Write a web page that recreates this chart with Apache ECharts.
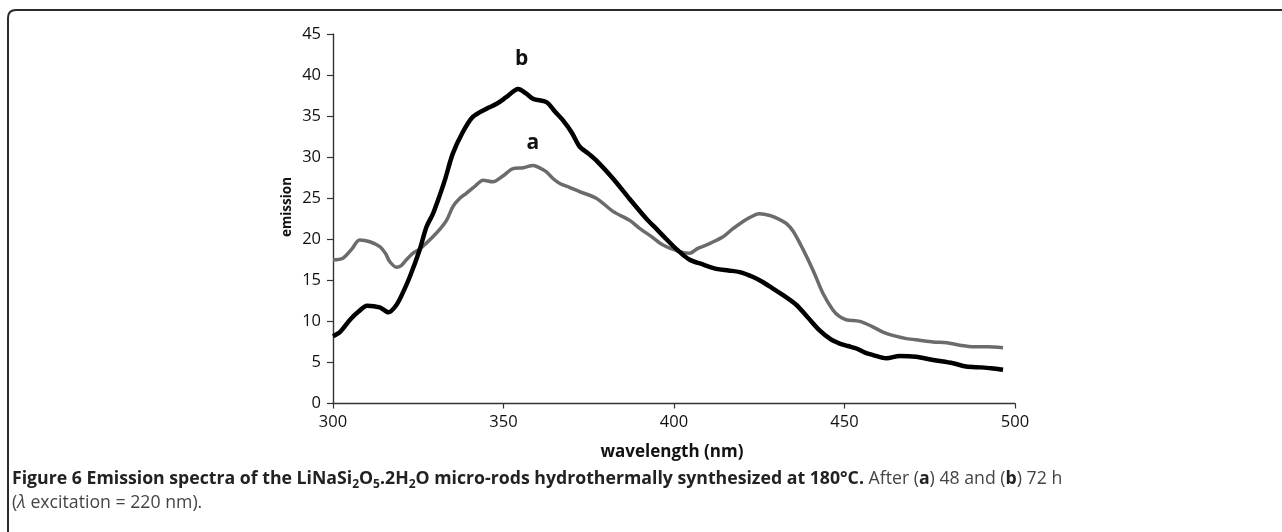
<!DOCTYPE html>
<html>
<head>
<meta charset="utf-8">
<script src="https://cdn.jsdelivr.net/npm/echarts@6/dist/echarts.min.js"></script>
<style>
html,body{margin:0;padding:0;background:#fff;}
#chart{width:1282px;height:532px;}
</style>
</head>
<body>
<div id="chart"></div>
<script>
// ---- data ----
const waveA = [300, 302.9, 305.5, 307.8, 310.8, 313.7, 315.5, 316.6, 318.6, 320, 321.5, 323.5, 325.4, 327.3, 329.3, 331.3, 333.3, 335.2, 337.2, 339.1, 341.5, 344, 346.9, 349.8, 352.8, 355.8, 358.7, 360.6, 362.6, 364.5, 366.5, 369.5, 372.3, 377.2, 382.1, 387, 390, 393.5, 396.8, 401.7, 404.6, 407, 409.5, 414.4, 417, 419.3, 422, 425, 428.1, 431, 433, 434.9, 437.8, 440.8, 443.7, 446.6, 448.5, 450.5, 454.5, 458, 461.3, 465, 468.2, 472, 476, 480, 483.8, 488, 492, 496.5];
const valA  = [17.5, 17.7, 18.8, 19.9, 19.7, 19.1, 18.2, 17.3, 16.6, 16.8, 17.5, 18.3, 18.8, 19.5, 20.3, 21.2, 22.3, 24.0, 25.0, 25.6, 26.4, 27.2, 27.0, 27.7, 28.6, 28.7, 29.0, 28.7, 28.2, 27.4, 26.8, 26.3, 25.8, 25.0, 23.4, 22.3, 21.3, 20.3, 19.3, 18.5, 18.3, 18.9, 19.3, 20.3, 21.2, 21.9, 22.6, 23.1, 22.9, 22.4, 21.9, 21.0, 18.8, 16.2, 13.4, 11.4, 10.6, 10.2, 10.0, 9.4, 8.7, 8.2, 7.9, 7.7, 7.5, 7.4, 7.1, 6.9, 6.9, 6.8];
const waveB = [300, 302, 305, 307.5, 310, 313.7, 316.3, 318.6, 320.5, 322.5, 325.4, 327.4, 329.3, 331, 332.8, 335.1, 338, 341, 345, 348, 350.8, 354.3, 356.5, 358.7, 362.6, 365, 367.4, 370, 372.3, 375, 377.2, 382.1, 387, 391.9, 395, 397.8, 401, 404.6, 408, 412.4, 416, 419.3, 423.2, 426, 429, 432, 435.9, 439, 442.7, 446, 448.6, 451, 453.5, 456, 458.4, 462.3, 466.2, 471, 476, 481.8, 485.7, 490, 493, 496.5];
const valB  = [8.2, 8.7, 10.2, 11.2, 11.9, 11.7, 11.1, 12.0, 13.5, 15.4, 18.7, 21.5, 23.1, 25.0, 27.2, 30.4, 33.0, 34.9, 35.9, 36.5, 37.3, 38.3, 37.8, 37.1, 36.7, 35.6, 34.5, 33.0, 31.3, 30.4, 29.6, 27.4, 24.9, 22.5, 21.2, 20.0, 18.7, 17.5, 17.0, 16.4, 16.2, 16.0, 15.4, 14.8, 14.0, 13.2, 12.0, 10.6, 8.9, 7.8, 7.3, 7.0, 6.7, 6.2, 5.9, 5.5, 5.8, 5.7, 5.3, 4.9, 4.5, 4.4, 4.3, 4.1];
const xTicks = [300, 350, 400, 450, 500];
const yTicks = [0, 5, 10, 15, 20, 25, 30, 35, 40, 45];
const labelA = ['a', 358.6, 31.7];
const labelB = ['b', 355.3, 42.0];

const pairs = (xs, ys) => xs.map((x, i) => [x, ys[i]]);

const chart = echarts.init(document.getElementById('chart'), null, {renderer: 'canvas'});
const FONT = 'Open Sans';
const CAP = 17.7;
const markLabel = (l) => ({
  coord: [l[1], l[2]], value: l[0], symbol: 'circle', symbolSize: 0,
  label: {show: true, position: 'inside', formatter: l[0], color: '#111', fontSize: 21, fontWeight: 'bold', fontFamily: FONT}
});

chart.setOption({
  animation: false,
  backgroundColor: '#fff',
  grid: {left: 333, right: 267, top: 34, bottom: 128.5, containLabel: false},
  xAxis: {
    type: 'value', min: xTicks[0], max: xTicks[xTicks.length - 1], interval: 50,
    axisLine: {show: true, lineStyle: {color: '#333', width: 1.4}},
    axisTick: {show: true, length: 5, lineStyle: {color: '#333', width: 1.2}},
    splitLine: {show: false},
    axisLabel: {margin: 10, color: '#111', fontSize: 16.5, fontFamily: FONT}
  },
  yAxis: {
    type: 'value', min: yTicks[0], max: yTicks[yTicks.length - 1], interval: 5,
    axisLine: {show: true, lineStyle: {color: '#333', width: 1.4}},
    axisTick: {show: true, length: 6, lineStyle: {color: '#333', width: 1.2}},
    splitLine: {show: false},
    axisLabel: {margin: 12, color: '#111', fontSize: 16.5, fontFamily: FONT}
  },
  series: [
    {
      name: 'a', type: 'line', data: pairs(waveA, valA), showSymbol: false, smooth: 0.3,
      lineStyle: {color: '#6b6b6b', width: 3.5}, z: 2,
      markPoint: {data: [markLabel(labelA)], silent: true}
    },
    {
      name: 'b', type: 'line', data: pairs(waveB, valB), showSymbol: false, smooth: 0.3,
      lineStyle: {color: '#000', width: 4.5}, z: 3,
      markPoint: {data: [markLabel(labelB)], silent: true}
    }
  ],
  graphic: [
    {
      type: 'polyline', silent: true,
      shape: {points: [[8, 532], [8, 18]]},
      style: {fill: null, stroke: '#2a2a2a', lineWidth: 2}
    },
    {
      type: 'bezierCurve', silent: true,
      shape: {x1: 8, y1: 18, cpx1: 8, cpy1: 10, x2: 16, y2: 10},
      style: {fill: null, stroke: '#2a2a2a', lineWidth: 2}
    },
    {
      type: 'polyline', silent: true,
      shape: {points: [[16, 10], [1282, 10]]},
      style: {fill: null, stroke: '#2a2a2a', lineWidth: 2}
    },
    {
      type: 'text', x: 287, y: 207, rotation: Math.PI / 2, silent: true,
      style: {text: 'emission', fontFamily: FONT, fontWeight: 'bold', fontSize: 13.5, fill: '#111', align: 'center', verticalAlign: 'middle'}
    },
    {
      type: 'text', x: 672, y: 452, silent: true,
      style: {text: 'wavelength (nm)', fontFamily: FONT, fontWeight: 'bold', fontSize: 17, fill: '#111', align: 'center', verticalAlign: 'middle'}
    },
    {
      type: 'text', x: 12, y: 467, silent: true,
      style: {
        text: '{b|Figure 6 Emission spectra of the LiNaSi}{bs|2}{b|O}{bs|5}{b|.2H}{bs|2}{b|O micro-rods hydrothermally synthesized at 180°C.}{r| After (}{rb|a}{r|) 48 and (}{rb|b}{r|) 72 h}',
        fontFamily: FONT, fontSize: CAP, fill: '#222',
        rich: {
          b: {fontFamily: FONT, fontSize: CAP, fontWeight: 'bold', fill: '#222', lineHeight: 24, verticalAlign: 'middle'},
          bs: {fontFamily: FONT, fontSize: 12, fontWeight: 'bold', fill: '#222', lineHeight: 24, verticalAlign: 'bottom'},
          r: {fontFamily: FONT, fontSize: CAP, fill: '#444', lineHeight: 24, verticalAlign: 'middle'},
          rb: {fontFamily: FONT, fontSize: CAP, fontWeight: 'bold', fill: '#222', lineHeight: 24, verticalAlign: 'middle'}
        }
      }
    },
    {
      type: 'text', x: 12, y: 491, silent: true,
      style: {
        text: '({i|λ}{r| excitation = 220 nm).}',
        fontFamily: FONT, fontSize: CAP, fill: '#444',
        rich: {
          i: {fontFamily: FONT, fontSize: CAP, fontStyle: 'italic', fill: '#444', lineHeight: 24},
          r: {fontFamily: FONT, fontSize: CAP, fill: '#444', lineHeight: 24}
        }
      }
    }
  ]
});
</script>
</body>
</html>
